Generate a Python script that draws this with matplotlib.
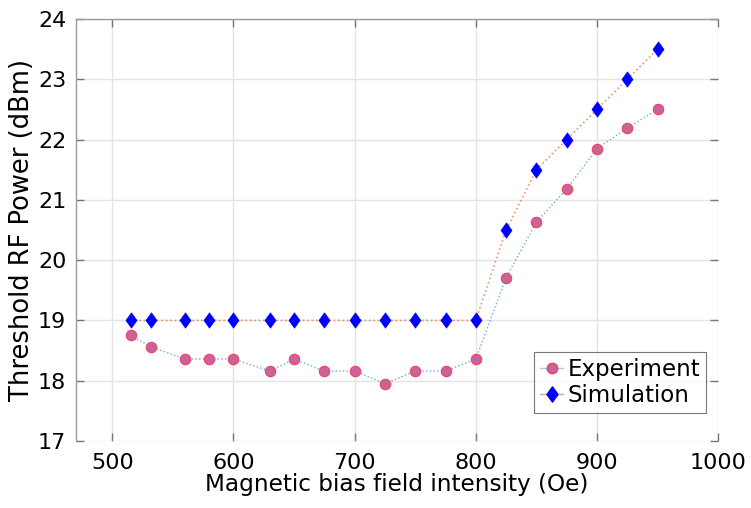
import matplotlib
matplotlib.use("Agg")
import matplotlib.pyplot as plt
from matplotlib.path import Path

# Bias field sweep (Oe)
field = [515, 532, 560, 580, 600, 630, 650, 675, 700, 725, 750, 775, 800,
         825, 850, 875, 900, 925, 950]

# Threshold RF power (dBm)
experiment = [18.75, 18.56, 18.36, 18.36, 18.36, 18.16, 18.36, 18.16, 18.16,
              17.95, 18.16, 18.16, 18.36, 19.71, 20.63, 21.18, 21.85, 22.19, 22.5]
simulation = [19.0, 19.0, 19.0, 19.0, 19.0, 19.0, 19.0, 19.0, 19.0, 19.0,
              19.0, 19.0, 19.0, 20.5, 21.5, 22.0, 22.5, 23.0, 23.5]

x_ticks = [500, 600, 700, 800, 900, 1000]
y_ticks = [17, 18, 19, 20, 21, 22, 23, 24]

plt.rcParams['font.family'] = ['DejaVu Sans']

# Diamond a bit wider than the built-in thin diamond
diamond = Path([(0, 1), (0.72, 0), (0, -1), (-0.72, 0), (0, 1)],
               [Path.MOVETO, Path.LINETO, Path.LINETO, Path.LINETO,
                Path.CLOSEPOLY])

exp_face, exp_edge = '#c8649a', '#f04060'
sim_color = '#0000ff'

fig = plt.figure(figsize=(7.51, 5.08), dpi=100)
ax = fig.add_axes([0.1012, 0.1319, 0.855, 0.8307])

ax.plot(field, experiment, linestyle=':', color='#4f9fd6', linewidth=1.0,
        alpha=0.85, zorder=2)
ax.plot(field, simulation, linestyle=':', color='#e8845a', linewidth=1.2,
        alpha=0.85, zorder=2)

ax.plot(field, experiment, linestyle='none', marker='o', markersize=7.5,
        markerfacecolor=exp_face, markeredgecolor=exp_edge,
        markeredgewidth=0.8, zorder=3)
ax.plot(field, simulation, linestyle='none', marker=diamond, markersize=11,
        markerfacecolor=sim_color, markeredgecolor=sim_color,
        markeredgewidth=0.5, zorder=3)

# Legend handles combine marker and a short line
h_exp, = ax.plot([], [], marker='o', markersize=7.5, color='#9fd0ee',
                 markerfacecolor=exp_face, markeredgecolor=exp_edge,
                 linewidth=1.0)
h_sim, = ax.plot([], [], marker=diamond, markersize=11, color='#f0a080',
                 markerfacecolor=sim_color, markeredgecolor=sim_color,
                 linewidth=1.0)
leg = ax.legend([h_exp, h_sim], ['Experiment', 'Simulation'],
                loc='lower right', bbox_to_anchor=(0.981, 0.066),
                fontsize=16.5, frameon=True, fancybox=False,
                handlelength=1.0, handletextpad=0.2, borderpad=0.25,
                labelspacing=0.15, borderaxespad=0)
leg.get_frame().set_edgecolor('#555555')
leg.get_frame().set_linewidth(0.8)

ax.set_xlim(470, 1000)
ax.set_ylim(17, 24)
ax.set_xticks(x_ticks)
ax.set_yticks(y_ticks)
ax.grid(True, color='#e4e4e4', linewidth=1.0)
ax.set_axisbelow(True)

ax.tick_params(direction='in', length=6, width=1, color='#777777',
               labelsize=16, top=True, right=True)
ax.tick_params(axis='y', pad=7)
ax.tick_params(axis='x', pad=9)

for side in ['left', 'top']:
    ax.spines[side].set_color('#999999')
    ax.spines[side].set_linewidth(1.0)
for side in ['right', 'bottom']:
    ax.spines[side].set_visible(False)

ax.set_xlabel('Magnetic bias field intensity (Oe)', fontsize=16.7, labelpad=0)
ax.set_ylabel('Threshold RF Power (dBm)', fontsize=18.5, labelpad=2)

fig.savefig('out.png', dpi=100)
